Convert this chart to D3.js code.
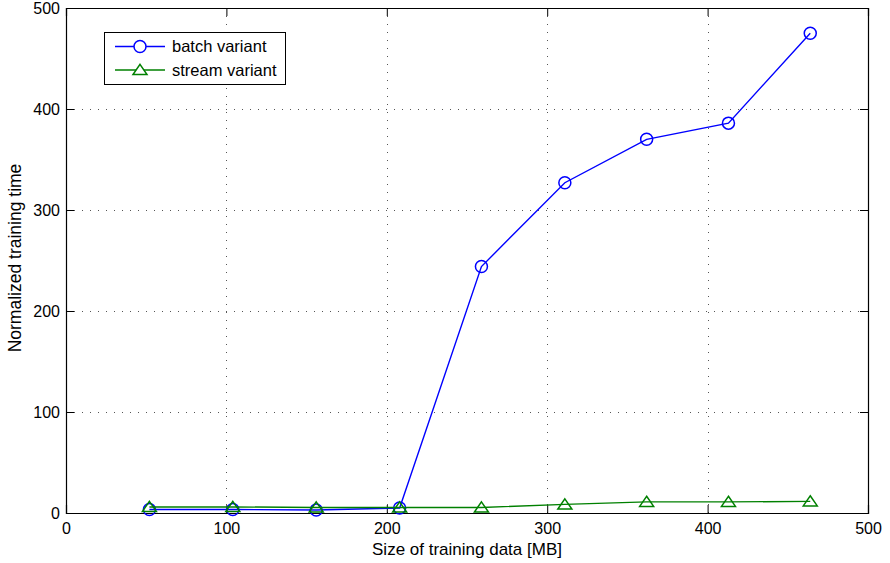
<!DOCTYPE html>
<html><head><meta charset="utf-8">
<script src="https://cdn.jsdelivr.net/npm/d3@7"></script>
<style>body{margin:0;background:#fff}svg text{font-family:"Liberation Sans",Arial,Helvetica,sans-serif}</style>
</head><body><svg id="c" width="890" height="563"></svg>
<script>
const sizesMB = [52, 104, 156, 208, 259, 311, 362, 413, 464];
const batchTime = [3.5, 3.5, 3, 5, 244, 327, 370, 386, 475];
const streamTime = [6, 6, 5.5, 5.5, 5.5, 8.5, 11, 11, 11.5];
const xTicks = [0, 100, 200, 300, 400, 500];
const yTicks = [0, 100, 200, 300, 400, 500];
const seriesNames = ["batch variant", "stream variant"];
const seriesColors = ["#0000ff", "#008000"];

const svg = d3.select("#c");
const L = 66, R = 868, T = 8, B = 513;
const x = d3.scaleLinear().domain([0, 500]).range([L, R]);
const y = d3.scaleLinear().domain([0, 500]).range([B, T]);

// grid
const grid = svg.append("g").attr("stroke", "#555").attr("stroke-width", 1).attr("stroke-dasharray", "1,7");
xTicks.slice(1, -1).forEach(t => grid.append("line").attr("x1", Math.round(x(t)) + 0.5).attr("x2", Math.round(x(t)) + 0.5).attr("y1", T).attr("y2", B));
yTicks.slice(1, -1).forEach(t => grid.append("line").attr("y1", Math.round(y(t)) + 0.5).attr("y2", Math.round(y(t)) + 0.5).attr("x1", L).attr("x2", R));

// axes
const fs = 16;
const ax = svg.append("g").attr("transform", `translate(0,${B})`).call(d3.axisBottom(x).tickValues(xTicks).tickSize(-8).tickPadding(14));
const ay = svg.append("g").attr("transform", `translate(${L},0)`).call(d3.axisLeft(y).tickValues(yTicks).tickSize(-8).tickPadding(14));
const axT = svg.append("g").attr("transform", `translate(0,${T})`).call(d3.axisTop(x).tickValues(xTicks).tickSize(-8).tickFormat(""));
const ayR = svg.append("g").attr("transform", `translate(${R},0)`).call(d3.axisRight(y).tickValues(yTicks).tickSize(-8).tickFormat(""));
[ax, ay, axT, ayR].forEach(g => {
  g.select(".domain").attr("stroke", "#000").attr("stroke-width", 1.2);
  g.selectAll(".tick line").attr("stroke", "#000");
  g.selectAll("text").attr("font-size", fs).attr("fill", "#000").attr("font-family", "Liberation Sans, Arial, sans-serif");
});
ax.selectAll("text").attr("dy", "0.71em").attr("y", 10);
ay.selectAll("text").attr("x", -6);

// titles
svg.append("text").attr("x", (L + R) / 2).attr("y", 555).attr("text-anchor", "middle").attr("font-size", 17).text("Size of training data [MB]");
svg.append("text").attr("transform", `translate(21,258) rotate(-90)`).attr("text-anchor", "middle").attr("font-size", 17.5).text("Normalized training time");

// lines
const line = d3.line().x(d => x(d[0])).y(d => y(d[1]));
const batch = sizesMB.map((s, i) => [s, batchTime[i]]);
const stream = sizesMB.map((s, i) => [s, streamTime[i]]);
const tri = (cx, cy, s) => `M${cx},${cy - s * 0.8}L${cx + s},${cy + s * 0.65}L${cx - s},${cy + s * 0.65}Z`;

function drawSeries(data, color, kind) {
  svg.append("path").datum(data).attr("d", line).attr("fill", "none").attr("stroke", color).attr("stroke-width", 1.4);
  if (kind === "circle") {
    svg.append("g").selectAll("circle").data(data).join("circle")
      .attr("cx", d => x(d[0])).attr("cy", d => y(d[1])).attr("r", 6)
      .attr("fill", "none").attr("stroke", color).attr("stroke-width", 1.5);
  } else {
    svg.append("g").selectAll("path").data(data).join("path")
      .attr("d", d => tri(x(d[0]), y(d[1]), 7))
      .attr("fill", "none").attr("stroke", color).attr("stroke-width", 1.5);
  }
}
drawSeries(batch, seriesColors[0], "circle");
drawSeries(stream, seriesColors[1], "tri");

// legend
const lg = svg.append("g");
lg.append("rect").attr("x", 104.5).attr("y", 32.5).attr("width", 181).attr("height", 52).attr("fill", "#fff").attr("stroke", "#000").attr("stroke-width", 1);
const rows = [46.5, 70];
rows.forEach((ry, i) => {
  lg.append("line").attr("x1", 115).attr("x2", 165).attr("y1", ry).attr("y2", ry).attr("stroke", seriesColors[i]).attr("stroke-width", 1.4);
  if (i === 0) lg.append("circle").attr("cx", 140).attr("cy", ry).attr("r", 6).attr("fill", "#fff").attr("stroke", seriesColors[i]).attr("stroke-width", 1.5);
  else lg.append("path").attr("d", tri(140, ry, 7)).attr("fill", "#fff").attr("stroke", seriesColors[i]).attr("stroke-width", 1.5);
  lg.append("text").attr("x", 172).attr("y", ry + 5.5).attr("font-size", 16.5).text(seriesNames[i]);
});
</script></body></html>
